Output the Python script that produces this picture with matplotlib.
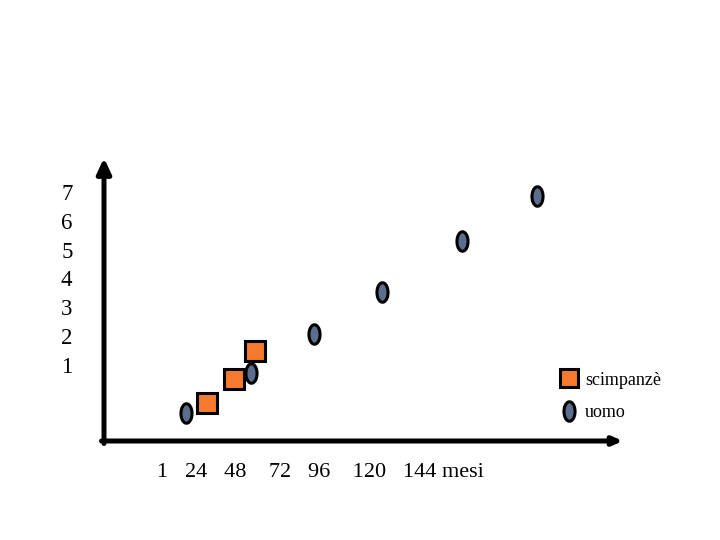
import numpy as np
import matplotlib
matplotlib.use('Agg')
import matplotlib.pyplot as plt
from matplotlib.path import Path
from matplotlib.lines import Line2D

plt.rcParams['font.family'] = ['Liberation Serif', 'DejaVu Serif']

# ---- data (age in months, value) ----
series_names = ['scimpanzè', 'uomo']
scimp_x = [25.7, 41.0, 52.4]
scimp_y = [-0.31, 0.52, 1.47]
uomo_x = [14.3, 50.2, 84.8, 122.4, 166.6, 208.3]
uomo_y = [-0.66, 0.72, 2.06, 3.53, 5.28, 6.85]
y_ticks = [1, 2, 3, 4, 5, 6, 7]
y_tick_labels = ['1', '2', '3', '4', '5', '6', '7']
x_tick_labels = ['1', '24', '48', '72', '96', '120', '144']
x_unit = 'mesi'

# ---- style ----
orange = '#F47A2E'
slate = '#5B6E8E'
x_gaps = [3, 3, 4, 3, 4, 3, 1]  # spaces after each x label (typography)

theta = np.linspace(0, 2 * np.pi, 80)
ellipse = Path(np.column_stack([0.57 * np.cos(theta), np.sin(theta)]), closed=True)

fig = plt.figure(figsize=(7.2, 5.4), dpi=100)
ax = fig.add_axes([104 / 720, 99 / 540, 519 / 720, 283 / 540])
ax.set_xlim(-31.05, 255.6)
ax.set_ylim(-1.63, 8.17)
for s in ax.spines.values():
    s.set_visible(False)

ax.plot(scimp_x, scimp_y, linestyle='none', marker='s', markersize=14.6,
        markerfacecolor=orange, markeredgecolor='black', markeredgewidth=2.2,
        clip_on=False, zorder=3)
ax.plot(uomo_x, uomo_y, linestyle='none', marker=ellipse, markersize=14.0,
        markerfacecolor=slate, markeredgecolor='black', markeredgewidth=2.2,
        clip_on=False, zorder=4)

# axis arrows
ax.annotate('', xy=(0, 1), xytext=(0, -2.5 / 283), xycoords='axes fraction',
            arrowprops=dict(arrowstyle='-|>,head_length=0.9,head_width=0.42',
                            lw=3.6, color='black', shrinkA=0, shrinkB=0,
                            mutation_scale=10), annotation_clip=False)
ax.annotate('', xy=(1, 0), xytext=(-2.5 / 519, 0), xycoords='axes fraction',
            arrowprops=dict(arrowstyle='-|>,head_length=0.55,head_width=0.24',
                            lw=3.6, color='black', shrinkA=0, shrinkB=0,
                            mutation_scale=10), annotation_clip=False)

ax.set_xticks([])
ax.set_yticks(y_ticks, labels=y_tick_labels)
ax.tick_params(axis='y', length=0, pad=22.7, labelsize=16.5)

xtext = ''.join(lab + ' ' * g for lab, g in zip(x_tick_labels, x_gaps)) + x_unit
fig.text(157 / 720, 1 - 477 / 540, xtext, fontsize=16, ha='left', va='baseline')

handles = [
    Line2D([], [], linestyle='none', marker='s', markersize=13.3,
           markerfacecolor=orange, markeredgecolor='black', markeredgewidth=2.2),
    Line2D([], [], linestyle='none', marker=ellipse, markersize=14.0,
           markerfacecolor=slate, markeredgecolor='black', markeredgewidth=2.2),
]
fig.legend(handles, series_names, loc='center left',
           bbox_to_anchor=(557.9 / 720, 1 - 396.5 / 540),
           bbox_transform=fig.transFigure, frameon=False, fontsize=13,
           handlelength=1.2, handletextpad=0.3, borderpad=0, borderaxespad=0,
           labelspacing=0.86)

fig.savefig('out.png', dpi=100)
